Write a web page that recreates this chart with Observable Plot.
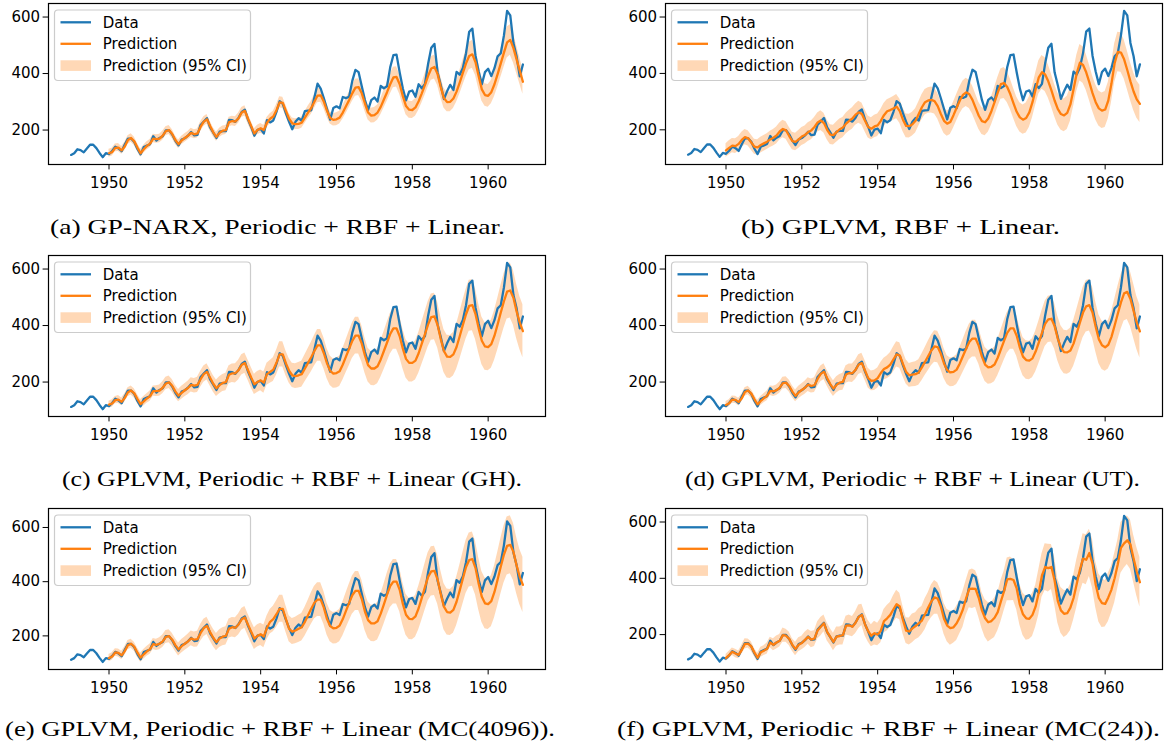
<!DOCTYPE html>
<html><head><meta charset="utf-8">
<script src="https://cdn.jsdelivr.net/npm/d3@7"></script>
<script src="https://cdn.jsdelivr.net/npm/@observablehq/plot@0.6"></script>
<style>
html,body{margin:0;padding:0;background:#fff;}
#wrap{position:relative;width:1165px;height:751px;overflow:hidden;background:#fff;}
.panel{position:absolute;}
.panel svg{overflow:visible;}
</style></head><body><div id="wrap"></div>
<script>
// ---------------- DATA ----------------
const xTicks = [1950, 1952, 1954, 1956, 1958, 1960];
const yTicks = [200, 400, 600];
const legendLabels = ["Data", "Prediction", "Prediction (95% CI)"];
const captions = [
  "(a) GP-NARX, Periodic + RBF + Linear.",
  "(b) GPLVM, RBF + Linear.",
  "(c) GPLVM, Periodic + RBF + Linear (GH).",
  "(d) GPLVM, Periodic + RBF + Linear (UT).",
  "(e) GPLVM, Periodic + RBF + Linear (MC(4096)).",
  "(f) GPLVM, Periodic + RBF + Linear (MC(24))."
];
const dataStartYear = 1949;
const predStartYear = 1950;
// monthly airline passengers 1949-1960
const passengers = [
112,118,132,129,121,135,148,148,136,119,104,118,
115,126,141,135,125,149,170,170,158,133,114,140,
145,150,178,163,172,178,199,199,184,162,146,166,
171,180,193,181,183,218,230,242,209,191,172,194,
196,196,236,235,229,243,264,272,237,211,180,201,
204,188,235,227,234,264,302,293,259,229,203,229,
242,233,267,269,270,315,364,347,312,274,237,278,
284,277,317,313,318,374,413,405,355,306,271,306,
315,301,356,348,355,422,465,467,404,347,305,336,
340,318,362,348,363,435,491,505,404,359,310,337,
360,342,406,396,420,472,548,559,463,407,362,405,
417,391,419,461,472,535,622,606,508,461,390,432];

// predicted means, monthly 1950-1960
const predA = [
118,122,137,138,128,142,165,172,160,138,118,132,
144,152,170,168,170,180,196,200,186,165,150,163,
172,180,190,185,188,212,230,238,214,192,176,190,
198,200,228,232,230,242,262,268,240,214,188,200,
206,200,226,240,248,270,298,296,268,240,224,221,
222,226,244,262,278,300,322,323,300,268,243,236,
238,244,262,284,306,330,350,352,330,294,262,251,
253,262,282,308,334,362,386,388,362,320,285,272,
271,280,302,330,360,392,418,423,398,352,313,299,
300,312,336,368,402,436,462,468,440,390,344,324,
321,334,362,398,436,474,510,519,490,450,410,371];
const hwA = [
14,14,14,14,14,15,15,15,15,14,14,14,
15,15,15,15,15,16,16,16,16,15,15,15,
15,15,16,16,16,17,17,17,17,16,16,16,
16,16,17,17,17,18,18,18,18,17,17,17,
17,17,18,18,19,20,20,20,20,19,19,19,
20,20,21,22,23,24,25,25,24,23,22,22,
23,23,24,26,27,29,30,30,29,27,26,26,
27,27,29,31,33,35,36,36,35,32,31,30,
30,31,33,35,38,40,42,42,40,37,35,34,
35,36,38,41,44,47,49,49,47,44,41,40,
40,41,44,47,50,53,55,54,52,49,46,44];

const predB = [
127,136,144,142,150,164,174,170,155,140,138,146,
152,158,166,172,180,194,203,198,178,160,157,166,
176,182,192,198,210,226,233,224,200,183,181,192,
202,208,222,232,240,254,262,256,232,210,204,212,
216,232,252,266,270,276,282,266,236,214,213,220,
232,256,280,298,304,306,302,284,256,232,222,228,
252,278,304,324,333,326,306,278,250,231,227,240,
266,298,332,362,366,352,326,294,264,244,236,242,
262,298,344,386,404,396,372,340,304,274,256,251,
260,290,344,400,438,430,404,368,330,298,276,268,
272,304,364,436,476,474,450,412,372,336,308,292];
const hwB = [
24,25,25,26,26,27,27,27,27,27,27,28,
28,28,29,29,30,30,31,31,31,31,31,32,
32,32,33,33,34,34,35,35,35,35,35,36,
36,36,37,37,38,38,39,39,39,39,39,40,
40,40,41,41,42,42,43,43,42,42,42,42,
43,43,44,45,45,46,46,46,45,45,45,45,
46,47,48,49,50,50,50,49,48,48,48,49,
50,51,53,54,55,55,54,53,52,52,52,53,
54,55,57,59,60,60,59,58,57,57,57,58,
59,60,62,64,65,65,64,63,62,62,62,63,
64,65,67,69,70,70,69,68,67,67,66,66];

const predC = [
120,124,136,138,130,144,164,170,160,140,122,132,
142,150,168,168,170,180,195,199,187,167,152,162,
171,179,190,187,190,210,228,236,215,194,178,189,
197,200,226,231,231,242,261,267,242,216,192,200,
206,198,228,236,244,268,298,298,266,240,224,221,
224,228,248,268,288,310,330,330,302,266,240,230,
232,238,262,290,318,346,364,364,336,294,260,248,
248,256,280,310,340,370,390,390,362,318,282,268,
268,276,302,336,370,404,430,432,402,352,310,290,
289,298,324,362,402,440,470,472,440,390,346,326,
324,334,364,404,446,486,520,524,498,450,410,380];
const hwC = [
12,13,13,14,14,15,16,16,16,16,16,17,
17,18,18,19,20,21,22,22,22,22,22,23,
23,24,25,26,27,28,29,29,29,29,29,30,
30,31,32,33,34,35,36,36,36,36,36,37,
37,38,39,40,42,44,45,45,44,43,43,44,
45,46,48,50,52,54,56,56,55,53,52,52,
53,54,56,58,61,63,65,65,64,62,60,60,
61,62,64,67,70,72,74,74,73,70,68,68,
68,69,72,75,78,80,82,82,81,78,76,76,
76,77,80,83,86,88,90,90,89,86,84,84,
84,85,88,91,94,96,97,97,97,96,94,94];

const predD = [
119,125,138,137,129,143,165,170,159,139,121,133,
143,151,169,167,171,180,196,198,186,166,151,163,
172,180,191,186,189,211,229,237,214,193,177,190,
198,201,227,232,231,243,262,267,241,214,204,206,
214,232,246,252,262,280,298,294,264,236,224,226,
228,234,252,272,292,312,326,324,300,266,242,234,
236,244,266,292,318,342,354,354,328,290,262,252,
254,262,286,316,346,374,390,390,364,322,290,278,
276,284,308,340,374,406,422,424,398,354,322,306,
305,312,336,372,410,446,468,472,446,396,352,330,
323,332,360,400,442,482,514,519,494,452,410,379];
const hwD = [
12,12,13,13,14,14,15,15,15,15,15,16,
16,17,17,18,19,20,21,21,21,21,21,22,
22,23,24,25,26,27,28,28,28,28,28,29,
29,30,31,32,33,34,35,35,35,35,35,36,
36,37,38,40,42,44,45,45,44,43,42,43,
44,45,47,49,52,54,56,56,55,53,51,51,
52,53,55,58,61,63,65,65,64,62,60,60,
60,61,64,67,70,72,74,74,73,70,68,68,
68,69,72,75,78,80,82,82,81,79,77,77,
77,78,81,84,87,89,91,91,90,88,86,86,
85,86,89,92,95,97,98,98,97,96,94,94];

const predE = [
118,124,139,137,128,144,166,171,160,138,120,132,
143,151,170,167,171,180,196,199,186,166,150,162,
171,180,191,186,188,211,229,237,214,193,177,190,
197,200,227,232,230,242,261,268,241,215,190,200,
206,198,230,252,262,280,300,300,262,226,216,220,
226,232,252,276,300,322,334,334,304,262,236,228,
230,238,262,292,322,350,366,366,336,290,258,246,
246,254,282,316,352,384,400,400,370,318,278,263,
262,272,302,340,380,418,438,440,408,354,308,288,
286,296,326,368,412,454,480,483,450,392,344,320,
317,328,362,408,456,500,532,536,510,460,418,388];
const hwE = [
13,14,14,15,15,16,17,17,17,17,17,18,
18,19,20,21,22,23,24,24,24,24,24,25,
25,26,27,28,29,31,32,32,32,32,32,33,
33,34,35,36,37,39,40,40,40,40,40,41,
41,42,43,45,47,49,50,50,49,48,48,49,
50,51,53,55,58,60,62,62,61,59,58,58,
59,60,62,65,68,70,72,72,71,69,67,67,
68,69,71,74,77,80,82,82,81,78,76,76,
76,77,80,83,86,89,91,91,90,87,85,85,
85,86,89,92,95,98,100,100,99,96,94,94,
93,94,96,99,102,105,107,107,106,104,102,102];

const predF = [
117,127,139,133,128,146,167,168,158,136,118,137,
143,150,172,164,172,178,198,196,185,163,149,164,
170,181,192,182,186,215,228,240,210,192,174,193,
195,198,232,233,228,242,263,270,236,212,196,205,
200,214,248,258,270,290,308,300,252,214,211,222,
230,240,250,272,296,318,332,328,300,256,232,223,
226,240,262,290,330,362,363,362,330,286,258,244,
248,260,280,318,354,396,398,394,364,306,272,258,
256,270,300,350,410,440,436,440,392,320,286,274,
276,296,330,380,430,470,466,490,452,378,330,312,
309,332,360,400,450,508,524,535,520,470,424,386];
const hwF = [
12,14,13,15,14,16,18,16,17,15,16,18,
17,20,19,21,23,22,25,23,24,22,24,25,
24,27,26,29,28,31,33,30,32,30,31,34,
32,35,33,37,36,39,42,38,40,38,39,42,
40,43,41,45,44,48,50,47,49,46,48,51,
48,52,50,55,53,58,60,56,58,55,57,61,
57,61,59,64,62,67,70,65,68,64,67,70,
66,70,67,73,70,76,78,73,76,72,75,78,
73,77,74,80,77,83,85,80,83,78,81,84,
78,82,79,85,82,88,89,84,87,82,85,87,
82,86,83,88,85,90,88,86,88,84,86,88];

// ---------------- LAYOUT ----------------
const C_DATA = "#1f77b4", C_PRED = "#ff7f0e";
const FONT = "DejaVu Sans";
const FS = 15;
const ROW_TOP = [0, 252, 505];
const COLS = [{left: 0, width: 560, ml: 48, mr: 15}, {left: 617, width: 548, ml: 48, mr: 3}];
const MT = 3, PH = 161, MB = 32, H = MT + PH + MB;
const capLayout = [
  {x: 50, w: 455, y: 234}, {x: 741, w: 319, y: 234},
  {x: 62, w: 460, y: 486}, {x: 685, w: 455, y: 486},
  {x: 5, w: 550, y: 736}, {x: 617, w: 543, y: 736}
];

const panels = [
  {mean: predA, hw: hwA, row: 0, col: 0},
  {mean: predB, hw: hwB, row: 0, col: 1},
  {mean: predC, hw: hwC, row: 1, col: 0},
  {mean: predD, hw: hwD, row: 1, col: 1},
  {mean: predE, hw: hwE, row: 2, col: 0},
  {mean: predF, hw: hwF, row: 2, col: 1}
];

const wrap = document.getElementById("wrap");
const dataRows = passengers.map((v, i) => ({t: dataStartYear + i / 12, v}));
const t0 = dataRows[0].t, t1 = dataRows[dataRows.length - 1].t, span = t1 - t0;

panels.forEach((p) => {
  const rows = p.mean.map((m, i) => ({t: predStartYear + i / 12, m, lo: m - p.hw[i], hi: m + p.hw[i]}));
  const lo = Math.min(d3.min(passengers), d3.min(rows, r => r.lo));
  const hi = Math.max(d3.max(passengers), d3.max(rows, r => r.hi));
  const R = hi - lo;
  const col = COLS[p.col];
  const svg = Plot.plot({
    width: col.width, height: H,
    marginLeft: col.ml, marginRight: col.mr, marginTop: MT, marginBottom: MB,
    style: {fontFamily: FONT, fontSize: FS + "px", color: "#000", background: "transparent", overflow: "visible"},
    x: {type: "linear", domain: [t0 - 0.05 * span, t1 + 0.05 * span]},
    y: {type: "linear", domain: [lo - 0.05 * R, hi + 0.05 * R]},
    marks: [
      Plot.areaY(rows, {x: "t", y1: "lo", y2: "hi", fill: C_PRED, fillOpacity: 0.3}),
      Plot.line(dataRows, {x: "t", y: "v", stroke: C_DATA, strokeWidth: 2.3}),
      Plot.line(rows, {x: "t", y: "m", stroke: C_PRED, strokeWidth: 2.3}),
      Plot.axisX({ticks: xTicks, tickFormat: d => String(d), tickSize: 5.4, tickPadding: 7, label: null, fontSize: FS}),
      Plot.axisY({ticks: yTicks, tickFormat: d => String(d), tickSize: 5.4, tickPadding: 3, label: null, fontSize: FS}),
      Plot.frame({stroke: "#000", strokeWidth: 1.2})
    ]
  });
  // legend
  const g = d3.select(svg).append("g").attr("font-family", FONT).attr("font-size", FS)
    .attr("text-anchor", "start");
  const bx = col.ml + 6.5, by = MT + 7;
  g.append("rect").attr("x", bx).attr("y", by).attr("width", 196).attr("height", 70.5)
    .attr("rx", 3.5).attr("fill", "#fff").attr("fill-opacity", 0.8)
    .attr("stroke", "#cccccc").attr("stroke-width", 1.2);
  const rowsY = [12.3, 33.8, 55.6];
  g.append("line").attr("x1", bx + 6).attr("x2", bx + 36.5).attr("y1", by + rowsY[0]).attr("y2", by + rowsY[0])
    .attr("stroke", C_DATA).attr("stroke-width", 2.3);
  g.append("line").attr("x1", bx + 6).attr("x2", bx + 36.5).attr("y1", by + rowsY[1]).attr("y2", by + rowsY[1])
    .attr("stroke", C_PRED).attr("stroke-width", 2.3);
  g.append("rect").attr("x", bx + 6).attr("y", by + rowsY[2] - 5.3).attr("width", 30.5).attr("height", 10.6)
    .attr("fill", C_PRED).attr("fill-opacity", 0.3);
  legendLabels.forEach((lab, i) => {
    g.append("text").attr("x", bx + 48.3).attr("y", by + rowsY[i]).attr("dy", "0.36em")
      .attr("text-anchor", "start").attr("fill", "#000").text(lab);
  });
  const div = document.createElement("div");
  div.className = "panel";
  div.style.left = col.left + "px";
  div.style.top = ROW_TOP[p.row] + "px";
  div.appendChild(svg);
  wrap.appendChild(div);
});

// captions
const cap = d3.create("svg").attr("width", 1165).attr("height", 751)
  .style("position", "absolute").style("left", "0px").style("top", "0px");
captions.forEach((c, i) => {
  const L = capLayout[i];
  cap.append("text").attr("x", L.x).attr("y", L.y).attr("text-anchor", "start")
    .attr("textLength", L.w).attr("lengthAdjust", "spacingAndGlyphs")
    .attr("font-family", "Liberation Serif, DejaVu Serif, serif").attr("font-size", 21)
    .attr("fill", "#000").text(c);
});
wrap.appendChild(cap.node());
</script></body></html>
